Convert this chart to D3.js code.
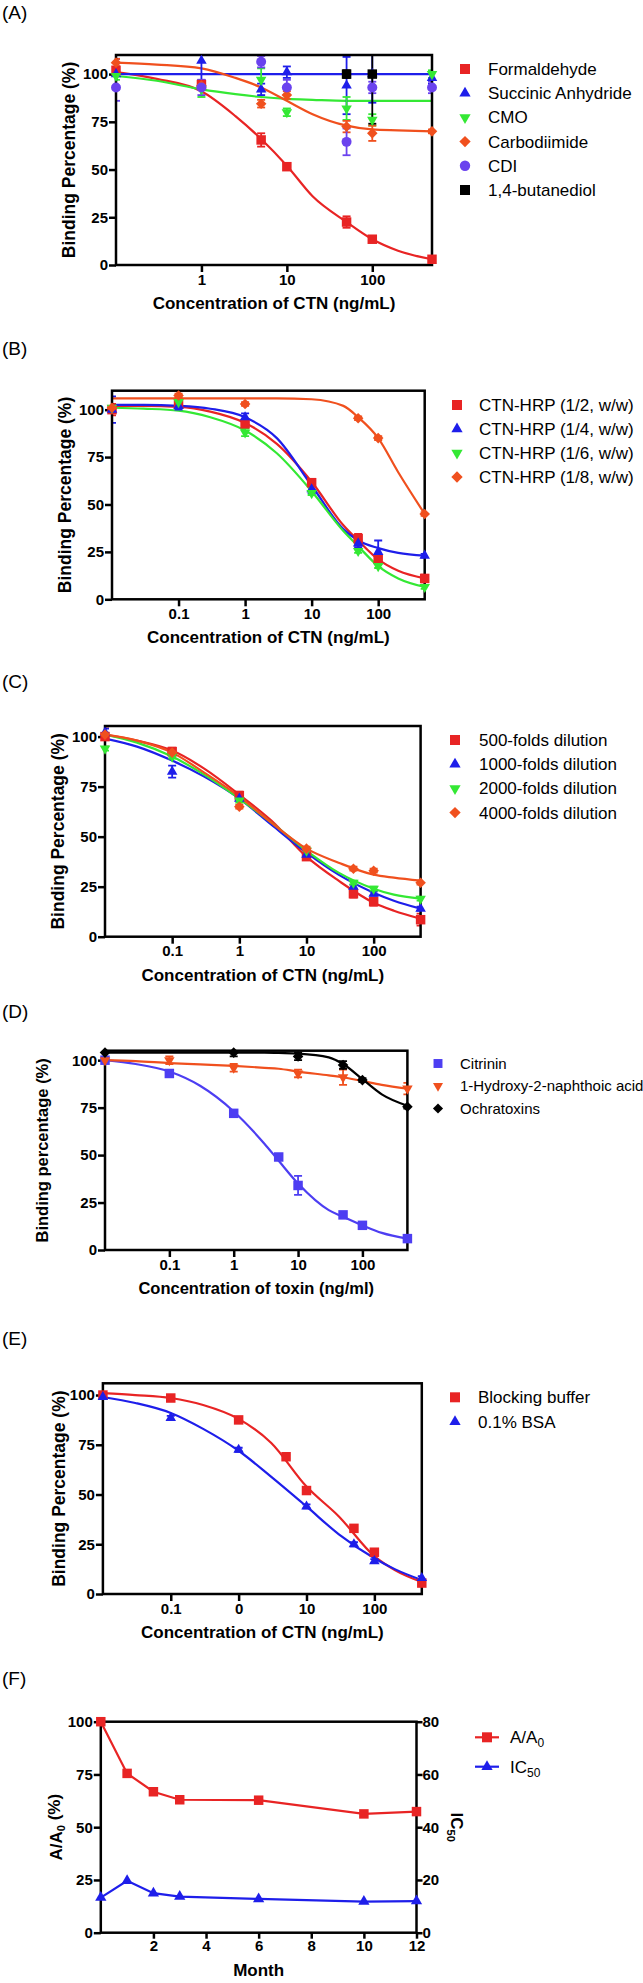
<!DOCTYPE html>
<html>
<head>
<meta charset="utf-8">
<script src="https://cdn.jsdelivr.net/npm/d3@7"></script>
<style>
  body { margin: 0; background: #fff; }
  svg { display: block; font-family: "Liberation Sans", Arial, sans-serif; }
</style>
</head>
<body>
<div id="chart"></div>
<script>
// ---------- (A) crosslinkers ----------
const concA = [0.1, 1, 5, 10, 50, 100, 500];
const formaldehyde = [102, 94.5, 65.5, 51.5, 22.5, 13.5, 3];
const formaldehydeErr = [2, 2, 3.5, 1.5, 3, 1.5, 1];
const succinic = [100, 107, 92, 101, 94, 100, 98];
const succinicErr = [8, 10, 3, 3, 15, 15, 3];
const cmo = [99, 92, 97, 80, 82, 76, 100];
const cmoErr = [2, 4, 6, 2, 6, 3, 2];
const carbodiimide = [106, 94, 84.5, 89, 72.5, 69, 70];
const carbodiimideErr = [2, 2, 2, 2, 3, 4, 1];
const cdi = [93, 93, 106.5, 93, 64.5, 93, 93];
const cdiErr = [7, 4, 3, 4, 7, 3, 3];
const butanediol = [null, null, null, null, 100, 100, null];
const butanediolErr = [0, 0, 0, 0, 2, 26, 0];
const fitConcA = [0.1, 0.3, 1, 2.5, 5, 10, 20, 50, 100, 200, 500];
const formaldehydeFit = [101, 97.5, 91, 78, 66, 52, 36, 22.5, 13.5, 7.5, 3];
const succinicFit = [100, 100, 100, 100, 100, 100, 100, 100, 100, 100, 100];
const cmoFit = [99, 96.5, 92, 89.5, 88, 87, 86.5, 86, 86, 86, 86];
const carbodiimideFit = [106, 105, 103, 98, 93, 86, 79, 73, 71, 70.5, 70];

// ---------- (B) CTN-HRP ratios ----------
const concB = [0.01, 0.1, 1, 10, 50, 100, 500];
const hrp2 = [100, 103, 92.5, 61.5, 32, 21, 11];
const hrp2Err = [3, 2, 2, 2, 2.5, 2, 2];
const hrp4 = [100, 102, 96, 58, 29.5, 25, 23];
const hrp4Err = [7, 2, 2, 2, 2, 6, 1];
const hrp6 = [101, 104, 88, 56, 25.5, 17.5, 6.5];
const hrp6Err = [1, 1, 2, 1, 1, 1, 1];
const hrp8 = [101, 107.5, 103, null, 95.5, 85, 45];
const hrp8Err = [1, 1, 1, 0, 1, 1, 1];
const fitConcB = [0.01, 0.03, 0.1, 0.3, 1, 3, 10, 30, 50, 100, 200, 500];
const hrp2Fit = [102, 102, 101.5, 99, 93, 82, 62, 39, 31, 21, 15, 11];
const hrp4Fit = [102.5, 102.5, 102, 100.5, 96, 85, 60, 37, 31, 27, 24.5, 23];
const hrp6Fit = [101, 100.5, 99.5, 96, 89, 77, 57, 36, 28, 17.5, 11, 6.5];
const hrp8Fit = [106, 106, 106, 106, 106, 106, 105.5, 102, 96, 85, 67, 45];

// ---------- (C) antibody dilutions ----------
const concC = [0.01, 0.1, 1, 10, 50, 100, 500];
const dil500 = [100, 92.5, 70.5, 40, 21.5, 17.5, 8.5];
const dil500Err = [5, 2, 2, 1.5, 2, 2, 3];
const dil1000 = [102, 82.5, 69, 41, 25, 21.5, 14];
const dil1000Err = [2, 3, 1, 1, 1, 1, 1];
const dil2000 = [94, 90, 68, 43, 27, 24, 19];
const dil2000Err = [1, 1, 1, 1, 1, 1, 1];
const dil4000 = [101, 92, 65, 44, 34, 33, 27];
const dil4000Err = [1, 1, 1, 1, 1, 1, 1];
const fitConcC = [0.01, 0.03, 0.1, 0.3, 1, 3, 10, 30, 100, 200, 500];
const dil500Fit = [101, 98, 93, 84, 71, 58, 40, 28, 17, 13, 9];
const dil1000Fit = [99, 95, 88, 80, 69, 56, 42, 31, 22, 18, 14];
const dil2000Fit = [101, 97, 90, 81, 69, 57, 43, 32, 24, 21, 19];
const dil4000Fit = [101, 98, 92, 82, 70, 57, 44, 37, 31, 29.5, 28];

// ---------- (D) cross reactivity ----------
const concD = [0.01, 0.1, 1, 5, 10, 50, 100, 500];
const citrinin = [100, 93, 72, 49, 34, 18.5, 13, 6];
const citrininErr = [1, 1, 1, 1, 5, 1, 1, 1];
const naphthoic = [100, 100, 96, null, 93, 91, null, 85];
const naphthoicErr = [1, 2, 2, 0, 2, 4, 0, 3];
const ochratoxins = [104, null, 104, null, 102, 97.5, 89.5, 75.5];
const ochratoxinsErr = [0, 0, 2, 0, 2, 2, 1, 1];
const fitConcD = [0.01, 0.03, 0.1, 0.3, 1, 3, 5, 10, 30, 50, 100, 200, 500];
const citrininFit = [100, 98, 94, 86.5, 73, 56, 47, 35, 21, 17.5, 13, 9, 6];
const naphthoicFit = [100, 99.5, 98.5, 97.8, 97, 96, 95.5, 94, 92, 91, 89, 87, 85];
const ochratoxinsFit = [104, 104, 104, 104, 104, 104, 103.8, 103.5, 101.5, 98, 90, 82, 76];

// ---------- (E) blocking ----------
const concE = [0.01, 0.1, 1, 5, 10, 50, 100, 500];
const blocking = [100, 98.5, 87.5, 69, 52, 33, 21, 5.5];
const blockingErr = [1, 1, 1, 1, 1, 1.5, 1, 1];
const bsa = [99, 88.5, 72.5, null, 44, 25, 16.5, 8];
const bsaErr = [1, 1, 1, 0, 1, 1, 1, 1];
const fitConcE = [0.01, 0.03, 0.1, 0.3, 1, 3, 10, 30, 100, 200, 500];
const blockingFit = [101, 100, 98.5, 95, 88, 76, 54, 39, 19, 12, 6];
const bsaFit = [99, 96, 91, 83, 72, 59, 44, 30, 18, 12.5, 7];

// ---------- (F) stability ----------
const months = [0, 1, 2, 3, 6, 10, 12];
const ratioA = [100, 75.5, 66.8, 63, 62.8, 56.3, 57.4];
const ic50 = [13.3, 19.7, 15, 13.7, 12.8, 11.8, 12];

// tick labels
const yTicks = [0, 25, 50, 75, 100];
const xTicksA = [1, 10, 100];
const xTickLabelsA = ["1", "10", "100"];
const xTicks = [0.1, 1, 10, 100];
const xTickLabels = ["0.1", "1", "10", "100"];
const xTickLabelsE = ["0.1", "0", "10", "100"];
const monthTicks = [2, 4, 6, 8, 10, 12];
const ic50Ticks = [0, 20, 40, 60, 80];

// Colors
const red = "#e82424", blue = "#1e1eea", green = "#34e834", orange = "#f0501e",
      purple = "#6a42ee", violet = "#4d3ef2", black = "#000000";

// marker areas (px^2) per shape, plot / legend
const markerSize = { square: 90, triangle: 48, triangleDown: 48, diamond: 56, circle: 78 };
const legendSize = { square: 100, triangle: 55, triangleDown: 55, diamond: 64, circle: 85 };

const svg = d3.select("#chart").append("svg")
    .attr("width", 643)
    .attr("height", 1983);

function symbolPath(shape, size) {
    if (shape === "circle") return d3.symbol(d3.symbolCircle, size)();
    if (shape === "triangle" || shape === "triangleDown") return d3.symbol(d3.symbolTriangle, size)();
    return d3.symbol(d3.symbolSquare, size)();
}
function symbolRot(shape) {
    if (shape === "triangleDown") return " rotate(180)";
    if (shape === "diamond") return " rotate(45)";
    return "";
}

function styleAxis(sel) {
    sel.select(".domain").remove();
    sel.selectAll(".tick line").attr("stroke", "#000").attr("stroke-width", 2.5);
    sel.selectAll(".tick text")
        .attr("fill", "#000")
        .style("font-size", "15px")
        .style("font-weight", "bold")
        .style("font-family", "'Liberation Sans', Arial, sans-serif");
}

function panelLabel(text, y) {
    svg.append("text")
        .attr("x", 2)
        .attr("y", y)
        .attr("dy", "0.3em")
        .style("font-size", "19px")
        .text(text);
}

function drawDosePanel(p) {
    const g = svg.append("g");
    const x = d3.scaleLog().domain(p.xDomain).range([p.left, p.right]);
    const y = d3.scaleLinear().domain([0, p.yMax]).range([p.bottom, p.top]);

    g.append("clipPath").attr("id", "clip-" + p.id)
        .append("rect")
        .attr("x", p.left).attr("y", p.top)
        .attr("width", p.right - p.left).attr("height", p.bottom - p.top);

    const clipped = g.append("g").attr("clip-path", `url(#clip-${p.id})`);

    const line = d3.line()
        .x(d => x(d[0]))
        .y(d => y(d[1]))
        .curve(d3.curveMonotoneX);

    // Fitted curves
    p.series.forEach(s => {
        if (!s.fit) return;
        clipped.append("path")
            .datum(s.fitConc.map((c, i) => [c, s.fit[i]]))
            .attr("d", line)
            .attr("fill", "none")
            .attr("stroke", s.color)
            .attr("stroke-width", 2.2);
    });

    // Error bars
    p.series.forEach(s => {
        const pts = s.conc.map((c, i) => ({ c, v: s.values[i], e: s.errs ? s.errs[i] : 0 }))
            .filter(d => d.v != null && d.e > 0);
        const eb = clipped.append("g").attr("stroke", s.color).attr("stroke-width", 1.8);
        pts.forEach(d => {
            const cx = x(d.c), y1 = y(d.v - d.e), y2 = y(d.v + d.e);
            eb.append("line").attr("x1", cx).attr("x2", cx).attr("y1", y1).attr("y2", y2);
            eb.append("line").attr("x1", cx - 4).attr("x2", cx + 4).attr("y1", y1).attr("y2", y1);
            eb.append("line").attr("x1", cx - 4).attr("x2", cx + 4).attr("y1", y2).attr("y2", y2);
        });
    });

    // Box and axes
    g.append("rect")
        .attr("x", p.left).attr("y", p.top)
        .attr("width", p.right - p.left).attr("height", p.bottom - p.top)
        .attr("fill", "none").attr("stroke", "#000").attr("stroke-width", 2.5);

    g.append("g")
        .attr("transform", `translate(${p.left},0)`)
        .call(d3.axisLeft(y).tickValues(yTicks).tickSize(7).tickPadding(1))
        .call(styleAxis);

    g.append("g")
        .attr("transform", `translate(0,${p.bottom})`)
        .call(d3.axisBottom(x).tickValues(p.xTicks).tickFormat((d, i) => p.xTickLabels[i]).tickSize(7).tickPadding(2))
        .call(styleAxis);

    // Markers
    p.series.forEach(s => {
        const pts = s.conc.map((c, i) => ({ c, v: s.values[i] })).filter(d => d.v != null);
        g.append("g").selectAll("path")
            .data(pts)
            .join("path")
            .attr("transform", d => `translate(${x(d.c)},${y(d.v)})${symbolRot(s.shape)}`)
            .attr("d", symbolPath(s.shape, markerSize[s.shape]))
            .attr("fill", s.color);
    });

    // Axis titles
    g.append("text")
        .attr("x", (p.left + p.right) / 2)
        .attr("y", p.bottom + 44)
        .attr("text-anchor", "middle")
        .style("font-size", (p.xTitleSize || 17) + "px")
        .style("font-weight", "bold")
        .text(p.xTitle);

    g.append("text")
        .attr("transform", `translate(${p.left - p.yTitleGap},${(p.top + p.bottom) / 2}) rotate(-90)`)
        .attr("dy", "0.35em")
        .attr("text-anchor", "middle")
        .style("font-size", (p.yTitleSize || 17.5) + "px")
        .style("font-weight", "bold")
        .text(p.yTitle);

    // Legend
    const lg = p.legend;
    p.series.forEach((s, i) => {
        const ly = lg.y0 + i * lg.dy;
        g.append("path")
            .attr("transform", `translate(${lg.x},${ly})${symbolRot(s.shape)}`)
            .attr("d", symbolPath(s.shape, legendSize[s.shape] * (lg.fontSize < 16 ? 0.8 : 1)))
            .attr("fill", s.color);
        g.append("text")
            .attr("x", lg.textX)
            .attr("y", ly)
            .attr("dy", "0.35em")
            .style("font-size", lg.fontSize + "px")
            .text(s.name);
    });
}

// (A)
panelLabel("(A)", 13.5);
drawDosePanel({
    id: "a", left: 116, right: 432, top: 55, bottom: 265,
    xDomain: [0.1, 500], yMax: 110,
    xTicks: xTicksA, xTickLabels: xTickLabelsA,
    xTitle: "Concentration of CTN (ng/mL)", yTitle: "Binding Percentage (%)", yTitleGap: 47,
    legend: { x: 465, textX: 488, y0: 69, dy: 24.2, fontSize: 17 },
    series: [
        { name: "Formaldehyde", color: red, shape: "square", conc: concA, values: formaldehyde, errs: formaldehydeErr, fitConc: fitConcA, fit: formaldehydeFit },
        { name: "Succinic Anhydride", color: blue, shape: "triangle", conc: concA, values: succinic, errs: succinicErr, fitConc: fitConcA, fit: succinicFit },
        { name: "CMO", color: green, shape: "triangleDown", conc: concA, values: cmo, errs: cmoErr, fitConc: fitConcA, fit: cmoFit },
        { name: "Carbodiimide", color: orange, shape: "diamond", conc: concA, values: carbodiimide, errs: carbodiimideErr, fitConc: fitConcA, fit: carbodiimideFit },
        { name: "CDI", color: purple, shape: "circle", conc: concA, values: cdi, errs: cdiErr },
        { name: "1,4-butanediol", color: black, shape: "square", conc: concA, values: butanediol, errs: butanediolErr }
    ]
});

// (B)
panelLabel("(B)", 349);
drawDosePanel({
    id: "b", left: 112, right: 424.7, top: 390.7, bottom: 599.3,
    xDomain: [0.01, 500], yMax: 110,
    xTicks: xTicks, xTickLabels: xTickLabels,
    xTitle: "Concentration of CTN (ng/mL)", yTitle: "Binding Percentage (%)", yTitleGap: 47,
    legend: { x: 457, textX: 479, y0: 405, dy: 24, fontSize: 17 },
    series: [
        { name: "CTN-HRP (1/2, w/w)", color: red, shape: "square", conc: concB, values: hrp2, errs: hrp2Err, fitConc: fitConcB, fit: hrp2Fit },
        { name: "CTN-HRP (1/4, w/w)", color: blue, shape: "triangle", conc: concB, values: hrp4, errs: hrp4Err, fitConc: fitConcB, fit: hrp4Fit },
        { name: "CTN-HRP (1/6, w/w)", color: green, shape: "triangleDown", conc: concB, values: hrp6, errs: hrp6Err, fitConc: fitConcB, fit: hrp6Fit },
        { name: "CTN-HRP (1/8, w/w)", color: orange, shape: "diamond", conc: concB, values: hrp8, errs: hrp8Err, fitConc: fitConcB, fit: hrp8Fit }
    ]
});

// (C)
panelLabel("(C)", 682);
drawDosePanel({
    id: "c", left: 105, right: 420.6, top: 726, bottom: 936.7,
    xDomain: [0.01, 500], yMax: 105.3,
    xTicks: xTicks, xTickLabels: xTickLabels,
    xTitle: "Concentration of CTN (ng/mL)", yTitle: "Binding Percentage (%)", yTitleGap: 47,
    legend: { x: 455, textX: 479, y0: 740, dy: 24.2, fontSize: 17 },
    series: [
        { name: "500-folds dilution", color: red, shape: "square", conc: concC, values: dil500, errs: dil500Err, fitConc: fitConcC, fit: dil500Fit },
        { name: "1000-folds dilution", color: blue, shape: "triangle", conc: concC, values: dil1000, errs: dil1000Err, fitConc: fitConcC, fit: dil1000Fit },
        { name: "2000-folds dilution", color: green, shape: "triangleDown", conc: concC, values: dil2000, errs: dil2000Err, fitConc: fitConcC, fit: dil2000Fit },
        { name: "4000-folds dilution", color: orange, shape: "diamond", conc: concC, values: dil4000, errs: dil4000Err, fitConc: fitConcC, fit: dil4000Fit }
    ]
});

// (D)
panelLabel("(D)", 1012);
drawDosePanel({
    id: "d", left: 105, right: 407.4, top: 1050.7, bottom: 1250,
    xDomain: [0.01, 500], yMax: 105,
    xTicks: xTicks, xTickLabels: xTickLabels,
    xTitle: "Concentration of toxin (ng/ml)", xTitleSize: 16.5,
    yTitle: "Binding percentage (%)", yTitleSize: 16.5, yTitleGap: 63,
    legend: { x: 438, textX: 460, y0: 1063.5, dy: 22.5, fontSize: 15 },
    series: [
        { name: "Citrinin", color: violet, shape: "square", conc: concD, values: citrinin, errs: citrininErr, fitConc: fitConcD, fit: citrininFit },
        { name: "1-Hydroxy-2-naphthoic acid", color: orange, shape: "triangleDown", conc: concD, values: naphthoic, errs: naphthoicErr, fitConc: fitConcD, fit: naphthoicFit },
        { name: "Ochratoxins", color: black, shape: "diamond", conc: concD, values: ochratoxins, errs: ochratoxinsErr, fitConc: fitConcD, fit: ochratoxinsFit }
    ]
});

// (E)
panelLabel("(E)", 1339.7);
drawDosePanel({
    id: "e", left: 102.9, right: 421.8, top: 1383.3, bottom: 1594,
    xDomain: [0.01, 500], yMax: 105.9,
    xTicks: xTicks, xTickLabels: xTickLabelsE,
    xTitle: "Concentration of CTN (ng/mL)", yTitle: "Binding Percentage (%)", yTitleGap: 44,
    legend: { x: 455, textX: 478, y0: 1397.3, dy: 24.4, fontSize: 17 },
    series: [
        { name: "Blocking buffer", color: red, shape: "square", conc: concE, values: blocking, errs: blockingErr, fitConc: fitConcE, fit: blockingFit },
        { name: "0.1% BSA", color: blue, shape: "triangle", conc: concE, values: bsa, errs: bsaErr, fitConc: fitConcE, fit: bsaFit }
    ]
});

// (F)
panelLabel("(F)", 1679.3);
(function drawStability() {
    const left = 100.8, right = 416.5, top = 1721.7, bottom = 1932.7;
    const g = svg.append("g");
    const x = d3.scaleLinear().domain([0, 12]).range([left, right]);
    const y = d3.scaleLinear().domain([0, 100]).range([bottom, top]);
    const y2 = d3.scaleLinear().domain([0, 80]).range([bottom, top]);

    g.append("rect")
        .attr("x", left).attr("y", top)
        .attr("width", right - left).attr("height", bottom - top)
        .attr("fill", "none").attr("stroke", "#000").attr("stroke-width", 2.5);

    g.append("g").attr("transform", `translate(${left},0)`)
        .call(d3.axisLeft(y).tickValues(yTicks).tickSize(7).tickPadding(1))
        .call(styleAxis);
    g.append("g").attr("transform", `translate(${right},0)`)
        .call(d3.axisRight(y2).tickValues(ic50Ticks).tickSize(6).tickPadding(0))
        .call(styleAxis);
    g.append("g").attr("transform", `translate(0,${bottom})`)
        .call(d3.axisBottom(x).tickValues(monthTicks).tickSize(6).tickPadding(2))
        .call(styleAxis);

    const lineA = d3.line().x((d, i) => x(months[i])).y(d => y(d));
    const lineIC = d3.line().x((d, i) => x(months[i])).y(d => y2(d));

    g.append("path").datum(ratioA).attr("d", lineA)
        .attr("fill", "none").attr("stroke", red).attr("stroke-width", 2.2);
    g.append("path").datum(ic50).attr("d", lineIC)
        .attr("fill", "none").attr("stroke", blue).attr("stroke-width", 2.2);

    g.append("g").selectAll("path").data(ratioA).join("path")
        .attr("transform", (d, i) => `translate(${x(months[i])},${y(d)})`)
        .attr("d", symbolPath("square", 90))
        .attr("fill", red);
    g.append("g").selectAll("path").data(ic50).join("path")
        .attr("transform", (d, i) => `translate(${x(months[i])},${y2(d)})`)
        .attr("d", symbolPath("triangle", 55))
        .attr("fill", blue);

    // Axis titles
    g.append("text")
        .attr("x", (left + right) / 2)
        .attr("y", bottom + 43)
        .attr("text-anchor", "middle")
        .style("font-size", "17px").style("font-weight", "bold")
        .text("Month");

    const yt = g.append("text")
        .attr("transform", `translate(${left - 45},${(top + bottom) / 2}) rotate(-90)`)
        .attr("dy", "0.35em")
        .attr("text-anchor", "middle")
        .style("font-size", "17px").style("font-weight", "bold");
    yt.append("tspan").text("A/A");
    yt.append("tspan").attr("dy", "0.3em").style("font-size", "11px").text("0");
    yt.append("tspan").attr("dy", "-0.3em").text(" (%)");

    const yt2 = g.append("text")
        .attr("transform", `translate(${right + 40},${(top + bottom) / 2}) rotate(90)`)
        .attr("dy", "0.35em")
        .attr("text-anchor", "middle")
        .style("font-size", "17px").style("font-weight", "bold");
    yt2.append("tspan").text("IC");
    yt2.append("tspan").attr("dy", "0.3em").style("font-size", "11px").text("50");

    // Legend
    const legendItems = [
        { main: "A/A", sub: "0", color: red, shape: "square", y: 1737.3 },
        { main: "IC", sub: "50", color: blue, shape: "triangle", y: 1766.7 }
    ];
    legendItems.forEach(it => {
        g.append("line")
            .attr("x1", 475).attr("x2", 499).attr("y1", it.y).attr("y2", it.y)
            .attr("stroke", it.color).attr("stroke-width", 2.2);
        g.append("path")
            .attr("transform", `translate(487,${it.y})`)
            .attr("d", symbolPath(it.shape, legendSize[it.shape]))
            .attr("fill", it.color);
        const t = g.append("text")
            .attr("x", 510).attr("y", it.y).attr("dy", "0.35em")
            .style("font-size", "17px");
        t.append("tspan").text(it.main);
        t.append("tspan").attr("dy", "0.35em").style("font-size", "12px").text(it.sub);
    });
})();
</script>
</body>
</html>
